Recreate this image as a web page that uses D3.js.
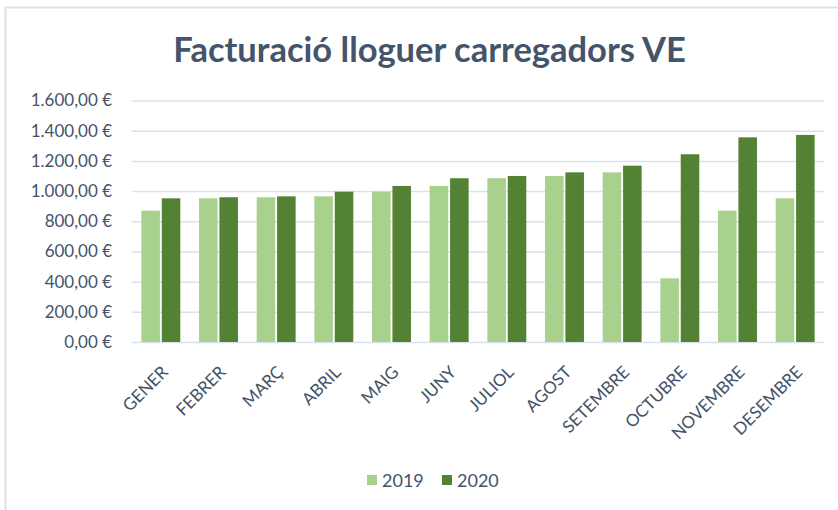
<!DOCTYPE html>
<html>
<head>
<meta charset="utf-8">
<script src="https://cdn.jsdelivr.net/npm/d3@7"></script>
<style>
  html, body { margin: 0; padding: 0; background: #fff; }
  svg { display: block; }
</style>
</head>
<body>
<svg id="chart" width="838" height="510"></svg>
<script>
const months = ["GENER","FEBRER","MARÇ","ABRIL","MAIG","JUNY","JULIOL","AGOST","SETEMBRE","OCTUBRE","NOVEMBRE","DESEMBRE"];
const seriesNames = ["2019","2020"];
const values2019 = [870, 952, 959, 965, 996, 1034, 1085, 1100, 1124, 422, 870, 952];
const values2020 = [952, 959, 965, 996, 1034, 1085, 1100, 1124, 1168, 1244, 1356, 1372];
const yTicks = [0, 200, 400, 600, 800, 1000, 1200, 1400, 1600];
const colors = ["#A9D18E", "#548235"];
const title = "Facturació lloguer carregadors VE";

const textColor = "#44546A";
const gridColor = "#D9E1EA";
const font = "Lato, 'Open Sans', sans-serif";

const svg = d3.select("#chart");

// chart area border (top + left visible)
svg.append("rect")
  .attr("x", 5.5).attr("y", 7.5)
  .attr("width", 900).attr("height", 600)
  .attr("fill", "none").attr("stroke", gridColor).attr("stroke-width", 2);

const plot = { left: 132, right: 824, top: 100.5, bottom: 342 };

const x = d3.scaleBand().domain(months).range([plot.left, plot.right])
  .paddingInner(0.325).paddingOuter(0.1625);
const xs = d3.scaleBand().domain(seriesNames).range([0, x.bandwidth()]).paddingInner(0.09);
const y = d3.scaleLinear().domain([0, 1600]).range([plot.bottom, plot.top]);

const locale = d3.formatLocale({ decimal: ",", thousands: ".", grouping: [3], currency: ["", "\u00a0€"] });
const fmt = locale.format("$,.2f");

// gridlines
const yAxis = d3.axisLeft(y).tickValues(yTicks).tickFormat(fmt)
  .tickSize(-(plot.right - plot.left)).tickPadding(20);
const gy = svg.append("g").attr("transform", `translate(${plot.left},0)`).call(yAxis);
gy.select(".domain").remove();
gy.selectAll(".tick line").attr("stroke", gridColor).attr("stroke-width", 1.5);
gy.selectAll(".tick text").attr("fill", textColor)
  .style("font-family", font).style("font-size", "17px");

// bars
const data = [values2019, values2020];
const groups = svg.append("g").selectAll("g").data(seriesNames).join("g")
  .attr("fill", (d, i) => colors[i]);
groups.selectAll("rect").data((s, i) => months.map((m, j) => ({ m, s, v: data[i][j] })))
  .join("rect")
  .attr("x", d => x(d.m) + xs(d.s))
  .attr("width", xs.bandwidth())
  .attr("y", d => y(d.v))
  .attr("height", d => y(0) - y(d.v));

// x axis labels
const xAxis = d3.axisBottom(x).tickSize(0).tickPadding(0);
const gx = svg.append("g").attr("transform", `translate(0,${plot.bottom})`).call(xAxis);
gx.select(".domain").remove();
gx.selectAll(".tick text")
  .attr("fill", textColor)
  .style("font-family", font).style("font-size", "17px")
  .attr("text-anchor", "end")
  .attr("y", 0).attr("dy", "0.35em")
  .attr("transform", "translate(4,27) rotate(-45)");

// title
svg.append("text")
  .attr("x", 429.5).attr("y", 62)
  .attr("text-anchor", "middle")
  .attr("fill", textColor)
  .style("font-family", font).style("font-weight", "bold").style("font-size", "34.5px")
  .text(title);

// legend
const legend = svg.append("g");
const legendX = [367, 442];
seriesNames.forEach((s, i) => {
  legend.append("rect").attr("x", legendX[i]).attr("y", 475)
    .attr("width", 10).attr("height", 10).attr("fill", colors[i]);
  legend.append("text").attr("x", legendX[i] + 15).attr("y", 487)
    .attr("fill", textColor)
    .style("font-family", font).style("font-size", "18px")
    .text(s);
});
</script>
</body>
</html>
